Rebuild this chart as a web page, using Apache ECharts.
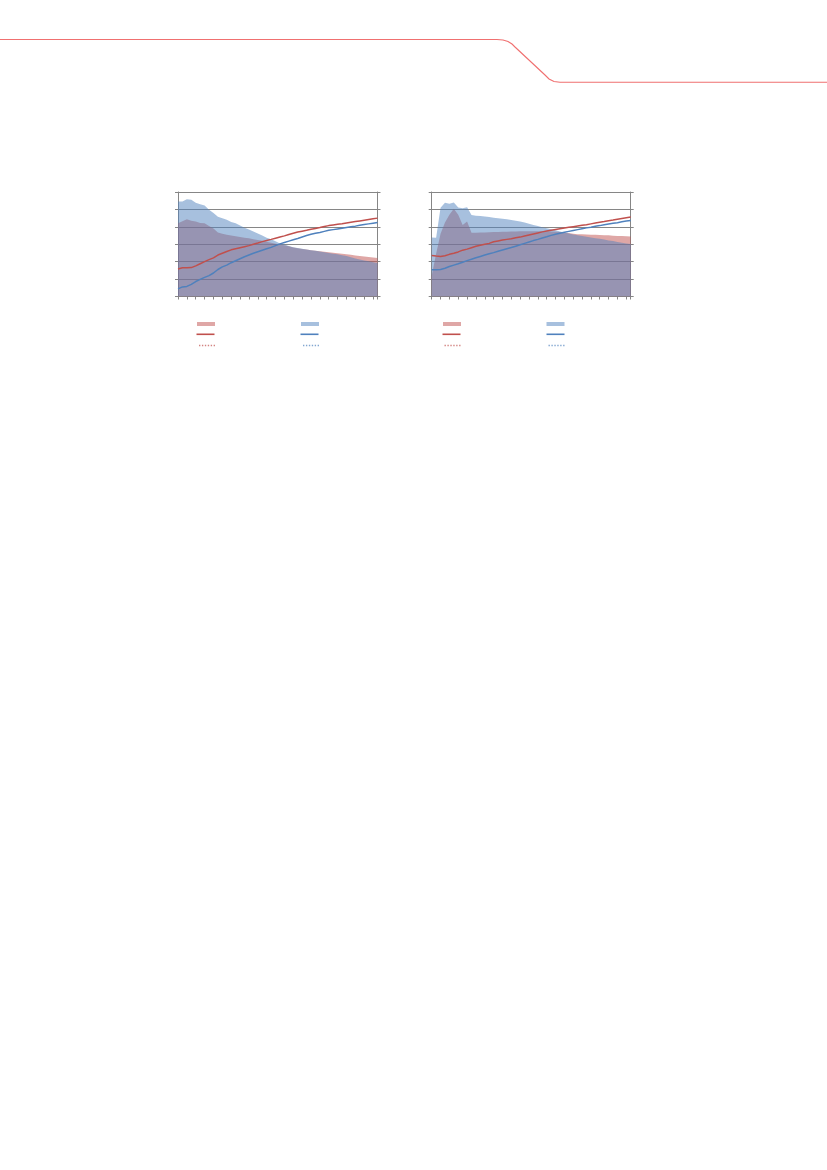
<!DOCTYPE html>
<html>
<head>
<meta charset="utf-8">
<script src="https://cdn.jsdelivr.net/npm/echarts@6/dist/echarts.min.js"></script>
<style>
html,body{margin:0;padding:0;background:#fff;}
#chart{width:827px;height:1170px;}
</style>
</head>
<body>
<div id="chart"></div>
<script>
// x positions (period index) shared by both charts
const periods = Array.from({length:46},(_, i)=>i);

// Chart 1 (left)
const c1RedArea = [4.2,4.32,4.44,4.35,4.3,4.22,4.2,4.05,3.9,3.68,3.6,3.55,3.5,3.46,3.42,3.38,3.34,3.29,3.25,3.2,3.14,3.08,3.03,2.98,2.94,2.88,2.82,2.77,2.73,2.7,2.66,2.63,2.6,2.57,2.54,2.51,2.48,2.46,2.43,2.4,2.36,2.33,2.3,2.27,2.24,2.21];
const c1BlueArea = [5.45,5.45,5.58,5.55,5.38,5.3,5.22,4.98,4.8,4.58,4.5,4.4,4.28,4.2,4.08,3.95,3.84,3.73,3.62,3.5,3.38,3.28,3.17,3.05,2.98,2.9,2.83,2.78,2.74,2.7,2.66,2.62,2.58,2.54,2.5,2.46,2.42,2.37,2.32,2.25,2.18,2.12,2.07,2.02,1.97,1.92];
const c1RedLine = [1.58,1.65,1.65,1.66,1.76,1.88,2.0,2.12,2.22,2.38,2.48,2.58,2.68,2.74,2.8,2.86,2.92,3.0,3.07,3.15,3.22,3.28,3.35,3.42,3.48,3.56,3.63,3.7,3.75,3.8,3.86,3.91,3.96,4.02,4.07,4.11,4.15,4.18,4.22,4.26,4.3,4.34,4.38,4.42,4.46,4.5];
const c1BlueLine = [0.44,0.55,0.58,0.7,0.86,0.98,1.1,1.2,1.35,1.55,1.7,1.8,1.94,2.05,2.17,2.28,2.38,2.48,2.57,2.66,2.74,2.82,2.92,3.02,3.1,3.18,3.26,3.33,3.42,3.5,3.57,3.63,3.68,3.74,3.8,3.84,3.88,3.92,3.96,4.0,4.04,4.09,4.13,4.17,4.21,4.25];
const c1RedDotted = [];
const c1BlueDotted = [];

// Chart 2 (right)
const c2RedArea = [1.2,2.45,3.6,4.25,4.7,5.04,4.7,4.1,4.3,3.66,3.66,3.67,3.68,3.69,3.7,3.71,3.72,3.72,3.73,3.73,3.74,3.74,3.74,3.74,3.74,3.74,3.74,3.73,3.72,3.7,3.68,3.64,3.6,3.58,3.57,3.56,3.55,3.54,3.53,3.52,3.51,3.49,3.48,3.47,3.46,3.45];
const c2BlueArea = [3.39,3.38,5.1,5.38,5.32,5.4,5.11,5.06,5.12,4.68,4.64,4.62,4.6,4.56,4.52,4.49,4.46,4.43,4.39,4.35,4.31,4.25,4.18,4.11,4.05,3.98,3.92,3.86,3.8,3.73,3.67,3.62,3.56,3.51,3.47,3.43,3.39,3.35,3.31,3.27,3.22,3.18,3.13,3.09,3.05,3.01];
const c2RedLine = [2.36,2.32,2.3,2.34,2.42,2.48,2.56,2.66,2.72,2.8,2.88,2.94,3.0,3.05,3.14,3.19,3.24,3.28,3.32,3.37,3.41,3.47,3.53,3.59,3.65,3.71,3.76,3.81,3.85,3.89,3.93,3.97,4.01,4.05,4.09,4.12,4.17,4.22,4.26,4.3,4.35,4.39,4.44,4.48,4.52,4.56];
const c2BlueLine = [1.53,1.53,1.55,1.62,1.72,1.8,1.88,1.97,2.06,2.14,2.22,2.3,2.38,2.45,2.52,2.6,2.67,2.74,2.81,2.89,2.97,3.05,3.13,3.21,3.28,3.36,3.43,3.51,3.57,3.63,3.69,3.74,3.79,3.84,3.89,3.94,3.98,4.03,4.07,4.12,4.16,4.2,4.24,4.29,4.33,4.37];
const c2RedDotted = [];
const c2BlueDotted = [];

const RED = '#C0504D', BLUE = '#4F81BD', GRID = '#868686';
const pair = (arr) => arr.map((v, i) => [periods[i], v]);

const grids = [
  {left:178, top:192, width:199.5, height:104.5},
  {left:431.7, top:192, width:199, height:104.5}
];

const xAxes = [], yAxes = [];
grids.forEach((g, gi) => {
  xAxes.push({type:'value', gridIndex:gi, min:0, max:45, interval:2,
    axisLine:{show:true, lineStyle:{color:GRID, width:1}},
    axisTick:{show:true, length:3, lineStyle:{color:GRID}},
    axisLabel:{show:false}, splitLine:{show:false}});
  yAxes.push({type:'value', gridIndex:gi, min:0, max:6, interval:1, position:'left',
    axisLine:{show:true, lineStyle:{color:GRID, width:1}},
    axisTick:{show:true, length:3, lineStyle:{color:GRID}},
    axisLabel:{show:false},
    splitLine:{show:true, lineStyle:{color:GRID, width:1}}});
  yAxes.push({type:'value', gridIndex:gi, min:0, max:6, interval:1, position:'right',
    axisLine:{show:true, lineStyle:{color:GRID, width:1}},
    axisTick:{show:true, length:3, lineStyle:{color:GRID}},
    axisLabel:{show:false}, splitLine:{show:false}});
});

function areaSeries(name, data, color, gi){
  return {name, type:'line', xAxisIndex:gi, yAxisIndex:gi*2, data:pair(data),
    showSymbol:false, silent:true, color,
    lineStyle:{width:0}, areaStyle:{color, opacity:0.5}};
}
function lineSeries(name, data, color, gi, dotted){
  return {name, type:'line', xAxisIndex:gi, yAxisIndex:gi*2, data:pair(data),
    showSymbol:false, silent:true, color,
    lineStyle:{width:1.5, color, type: dotted ? 'dotted' : 'solid'}};
}

const series = [
  areaSeries('c1 red area', c1RedArea, RED, 0),
  areaSeries('c1 blue area', c1BlueArea, BLUE, 0),
  lineSeries('c1 red line', c1RedLine, RED, 0),
  lineSeries('c1 blue line', c1BlueLine, BLUE, 0),
  lineSeries('c1 red dotted', c1RedDotted, RED, 0, true),
  lineSeries('c1 blue dotted', c1BlueDotted, BLUE, 0, true),
  areaSeries('c2 red area', c2RedArea, RED, 1),
  areaSeries('c2 blue area', c2BlueArea, BLUE, 1),
  lineSeries('c2 red line', c2RedLine, RED, 1),
  lineSeries('c2 blue line', c2BlueLine, BLUE, 1),
  lineSeries('c2 red dotted', c2RedDotted, RED, 1, true),
  lineSeries('c2 blue dotted', c2BlueDotted, BLUE, 1, true)
];

const DOTS = 'path://M0,0h1.4v1.4h-1.4zM3,0h1.4v1.4h-1.4zM6,0h1.4v1.4h-1.4zM9,0h1.4v1.4h-1.4zM12,0h1.4v1.4h-1.4zM15,0h1.4v1.4h-1.4z';
function leg(name, left, cy, kind, color){
  const h = kind === 'rect' ? 4 : (kind === 'line' ? 1.6 : 1.4);
  const w = kind === 'dots' ? 16 : 18;
  return {data:[{name, icon: kind === 'dots' ? DOTS : 'rect',
      itemStyle:{color, opacity:1}}],
    left, top: cy - h/2, itemWidth:w, itemHeight:h, padding:0, itemGap:0,
    selectedMode:false, formatter:() => '',
    textStyle:{fontSize:1, lineHeight:1, padding:0}};
}
const legends = [
  leg('c1 red area', 197, 324, 'rect', 'rgba(192,80,77,0.5)'),
  leg('c1 blue area', 301, 324, 'rect', 'rgba(79,129,189,0.5)'),
  leg('c1 red line', 196.5, 334.3, 'line', RED),
  leg('c1 blue line', 300.5, 334.3, 'line', BLUE),
  leg('c1 red dotted', 199, 345.5, 'dots', 'rgba(192,80,77,0.7)'),
  leg('c1 blue dotted', 303, 345.5, 'dots', 'rgba(79,129,189,0.7)'),
  leg('c2 red area', 443, 324, 'rect', 'rgba(192,80,77,0.5)'),
  leg('c2 blue area', 546.5, 324, 'rect', 'rgba(79,129,189,0.5)'),
  leg('c2 red line', 442.5, 334.3, 'line', RED),
  leg('c2 blue line', 546.5, 334.3, 'line', BLUE),
  leg('c2 red dotted', 444.5, 345.5, 'dots', 'rgba(192,80,77,0.7)'),
  leg('c2 blue dotted', 548.5, 345.5, 'dots', 'rgba(79,129,189,0.7)')
];

const chart = echarts.init(document.getElementById('chart'), null, {renderer:'canvas'});
chart.setOption({
  animation:false,
  backgroundColor:'#ffffff',
  grid:grids,
  xAxis:xAxes,
  yAxis:yAxes,
  legend:legends,
  series,
  graphic:[{
    type:'polyline', silent:true,
    shape:{points:[[0,39.5],[497,39.5],[503,40],[508,41.5],[512,44],[515,47],[545,75],[549,79],[554,81.5],[560,82.3],[827,82.3]]},
    style:{fill:null, stroke:'#f07070', lineWidth:1.1}
  }]
});
</script>
</body>
</html>
